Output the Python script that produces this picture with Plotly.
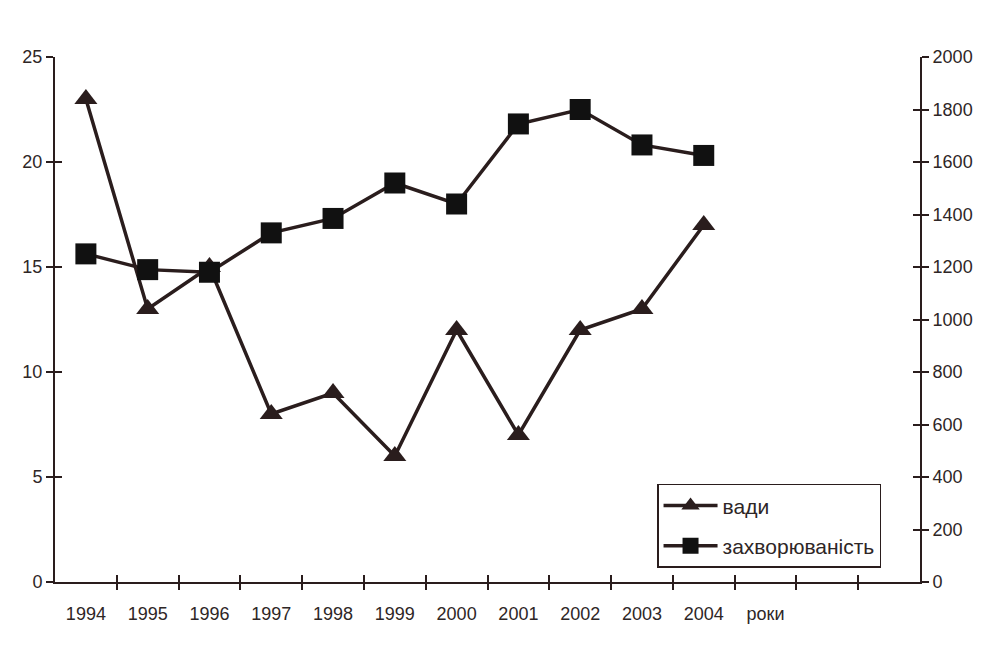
import plotly.graph_objects as go

# Category slots along the x axis (the last two are empty slots)
categories = ["1994", "1995", "1996", "1997", "1998", "1999", "2000",
              "2001", "2002", "2003", "2004", "роки", "", ""]
years = ["1994", "1995", "1996", "1997", "1998", "1999", "2000",
         "2001", "2002", "2003", "2004"]

# вади (left axis)
vady = [23, 13, 15, 8, 9, 6, 12, 7, 12, 13, 17]
# захворюваність (right axis)
zakhv = [1250, 1190, 1180, 1330, 1385, 1520, 1440, 1745, 1800, 1665, 1625]

left_ticks = [0, 5, 10, 15, 20, 25]
right_ticks = [0, 200, 400, 600, 800, 1000, 1200, 1400, 1600, 1800, 2000]

ink = "#2a1d1d"
text_col = "#2e2626"
font_family = "Liberation Sans, Arial, sans-serif"

n = len(categories)
centers = [i + 0.5 for i in range(n)]
xpos = centers[:len(years)]

fig = go.Figure()

fig.add_trace(go.Scatter(
    x=xpos, y=vady, name="вади", mode="lines+markers",
    line=dict(color=ink, width=3.5),
    marker=dict(symbol="triangle-up", size=20, color=ink),
    xaxis="x", yaxis="y", legendgroup="a",
))
fig.add_trace(go.Scatter(
    x=xpos, y=zakhv, name="захворюваність", mode="lines+markers",
    line=dict(color=ink, width=3.5),
    marker=dict(symbol="square", size=21, color="#111111"),
    xaxis="x", yaxis="y2", legendgroup="b",
))

# invisible helpers so the tick-only overlay axes get drawn
for xa, ya in [("x2", "y3"), ("x3", "y4")]:
    fig.add_trace(go.Scatter(x=[None], y=[None], xaxis=xa, yaxis=ya,
                             showlegend=False, hoverinfo="skip"))

axis_line = dict(color=ink, width=2)
tick_font = dict(family=font_family, size=18, color=text_col)

fig.update_layout(
    width=991, height=648,
    margin=dict(l=55, r=71, t=57, b=66),
    paper_bgcolor="white", plot_bgcolor="white",
    font=dict(family=font_family, size=18, color=text_col),
    showlegend=True,
    legend=dict(
        x=0.696, y=0.027, xanchor="left", yanchor="bottom",
        bgcolor="white", bordercolor=ink, borderwidth=1.5,
        font=dict(family=font_family, size=21, color=text_col),
        tracegroupgap=10, traceorder="grouped",
        itemwidth=54,
    ),
    xaxis=dict(
        range=[0, n], tickmode="array", tickvals=centers, ticktext=categories,
        ticks="", showgrid=False, zeroline=False,
        showline=True, linecolor=axis_line["color"], linewidth=axis_line["width"],
        tickfont=tick_font, anchor="y", fixedrange=True,
        ticklabelstandoff=14,
    ),
    xaxis2=dict(
        range=[0, n], overlaying="x", anchor="y", side="bottom",
        tickmode="array", tickvals=list(range(1, n)), ticks="outside",
        ticklen=7, tickwidth=2, tickcolor=ink, showticklabels=False,
        showgrid=False, zeroline=False, showline=False,
    ),
    xaxis3=dict(
        range=[0, n], overlaying="x", anchor="y", side="bottom",
        tickmode="array", tickvals=list(range(1, n)), ticks="inside",
        ticklen=7, tickwidth=2, tickcolor=ink, showticklabels=False,
        showgrid=False, zeroline=False, showline=False,
    ),
    yaxis=dict(
        range=[0, 25], tickmode="array", tickvals=left_ticks,
        ticks="outside", ticklen=7, tickwidth=2, tickcolor=ink,
        showgrid=False, zeroline=False, showline=True,
        linecolor=axis_line["color"], linewidth=axis_line["width"],
        tickfont=tick_font, anchor="x", side="left",
    ),
    yaxis2=dict(
        range=[0, 2000], tickmode="array", tickvals=right_ticks,
        ticks="outside", ticklen=7, tickwidth=2, tickcolor=ink,
        showgrid=False, zeroline=False, showline=True,
        linecolor=axis_line["color"], linewidth=axis_line["width"],
        tickfont=tick_font, overlaying="y", side="right", anchor="x",
    ),
    yaxis3=dict(
        range=[0, 25], overlaying="y", side="left", anchor="x",
        tickmode="array", tickvals=left_ticks, ticks="inside",
        ticklen=7, tickwidth=2, tickcolor=ink, showticklabels=False,
        showgrid=False, zeroline=False, showline=False,
    ),
    yaxis4=dict(
        range=[0, 2000], overlaying="y", side="right", anchor="x",
        tickmode="array", tickvals=right_ticks, ticks="inside",
        ticklen=7, tickwidth=2, tickcolor=ink, showticklabels=False,
        showgrid=False, zeroline=False, showline=False,
    ),
)

fig.write_html("out.html")
